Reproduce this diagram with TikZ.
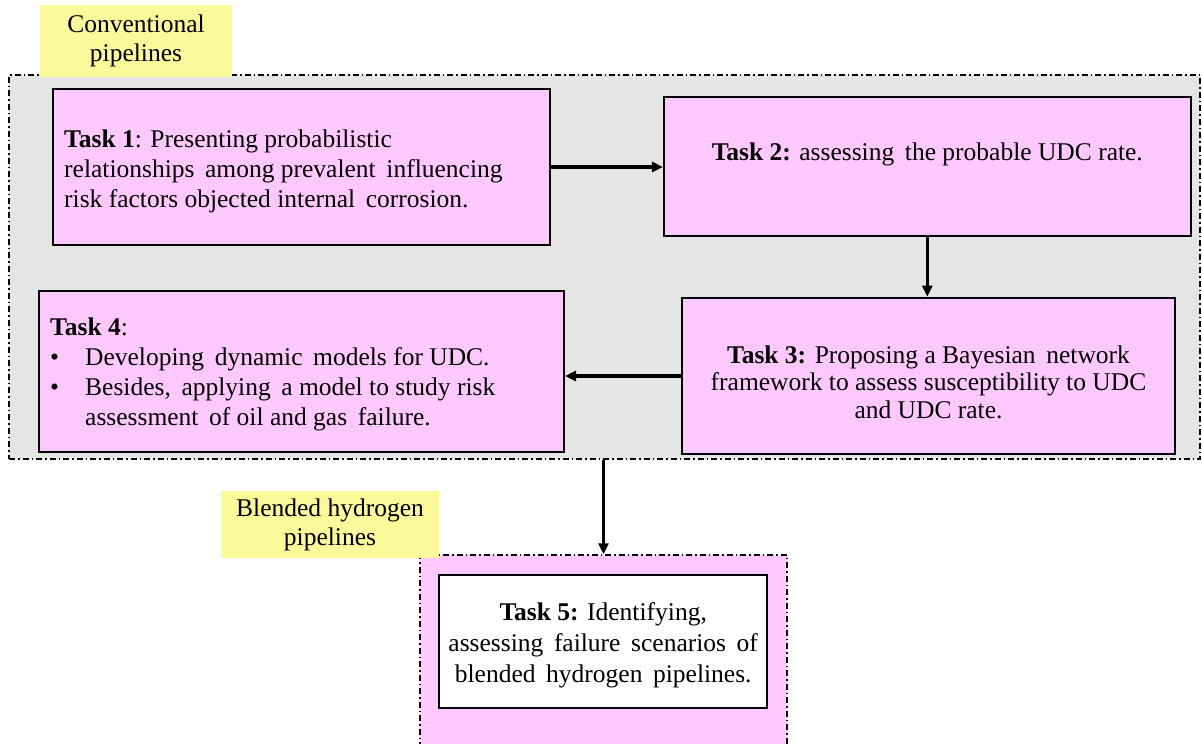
\documentclass[tikz,border=0pt]{standalone}
\usepackage{fontspec}
\setmainfont{Liberation Serif}
\usetikzlibrary{arrows.meta}

\definecolor{taskpink}{RGB}{255,201,255}
\definecolor{groupgray}{RGB}{230,229,230}
\definecolor{tagyellow}{RGB}{250,250,155}

\begin{document}
\begin{tikzpicture}[x=1pt,y=-1pt,
  dashdot/.style={draw=black, line width=1.5pt, dash pattern=on 6pt off 3pt on 1.5pt off 3pt, inner sep=0pt},
  taskbox/.style={draw=black, line width=2pt, fill=taskpink, inner sep=0pt},
  tasktext/.style={font=\fontsize{25.5}{30}\selectfont, inner sep=0pt},
  tag/.style={fill=tagyellow, inner sep=0pt, font=\fontsize{25.5}{29}\selectfont, align=center},
  flow/.style={line width=3.2pt, -{Triangle[length=11pt,width=10pt]}}]

\clip (0,0) rectangle (1202,744);
\fill[white] (0,0) rectangle (1202,744);

% group of conventional-pipeline tasks
\node[dashdot, fill=groupgray, minimum width=1191pt, minimum height=384pt] (conv) at (604.5,267) {};
\node[tag, minimum width=192pt, minimum height=72pt] (convtag) at (136,41) {Conventional\\pipelines};

% task boxes
\node[taskbox, minimum width=497pt, minimum height=156pt] (t1) at (301.5,167) {};
\node[tasktext, anchor=west, align=left] (t1txt) at (64,171.5)
  {\textbf{Task 1}: Presenting probabilistic\\relationships\, among prevalent\, influencing\\risk factors objected internal\, corrosion.};

\node[taskbox, minimum width=526.7pt, minimum height=138.4pt] (t2) at (927.3,166.5) {};
\node[tasktext, anchor=base] (t2txt) at (927.3,160)
  {\textbf{Task 2:} assessing\, the probable UDC rate.};

\node[taskbox, minimum width=493pt, minimum height=156.6pt] (t3) at (928.5,376) {};
\node[tasktext, font=\fontsize{25.5}{27.5}\selectfont, align=center] (t3txt) at (928.5,382)
  {\textbf{Task 3:} Proposing a Bayesian\, network\\framework to assess susceptibility to UDC\\and UDC rate.};

\node[taskbox, minimum width=525pt, minimum height=161pt] (t4) at (301.5,371.2) {};
\node[tasktext, anchor=west, align=left] (t4txt) at (50,374)
  {\textbf{Task 4}:\\
   \makebox[35pt][l]{\textbullet}Developing\, dynamic\, models for UDC.\\
   \makebox[35pt][l]{\textbullet}Besides,\, applying\, a model to study risk\\
   \hspace*{35pt}assessment\, of oil and gas\, failure.};

% blended-hydrogen group
\node[dashdot, fill=taskpink, minimum width=367pt, minimum height=240pt] (blend) at (603.5,675) {};
\node[draw=black, line width=2pt, fill=white, inner sep=0pt, minimum width=327.7pt, minimum height=133.3pt] (t5) at (603.2,641.7) {};
\node[tasktext, font=\fontsize{25.5}{31}\selectfont, align=center] (t5txt) at (603.2,645)
  {\textbf{Task 5:} Identifying,\\assessing\, failure\, scenarios\, of\\blended\, hydrogen\, pipelines.};
\node[tag, minimum width=218pt, minimum height=67pt] (blendtag) at (330,524.5) {Blended hydrogen\\pipelines};

% connectors
\draw[flow] (t1.east) -- (t1.east -| t2.west);
\draw[flow, line width=2.8pt] (t2.south) -- (t2.south |- t3.north);
\draw[flow] (t3.west) -- (t3.west -| t4.east);
\draw[flow, line width=2.8pt] (conv.south -| blend.north) -- (blend.north);

\end{tikzpicture}
\end{document}
